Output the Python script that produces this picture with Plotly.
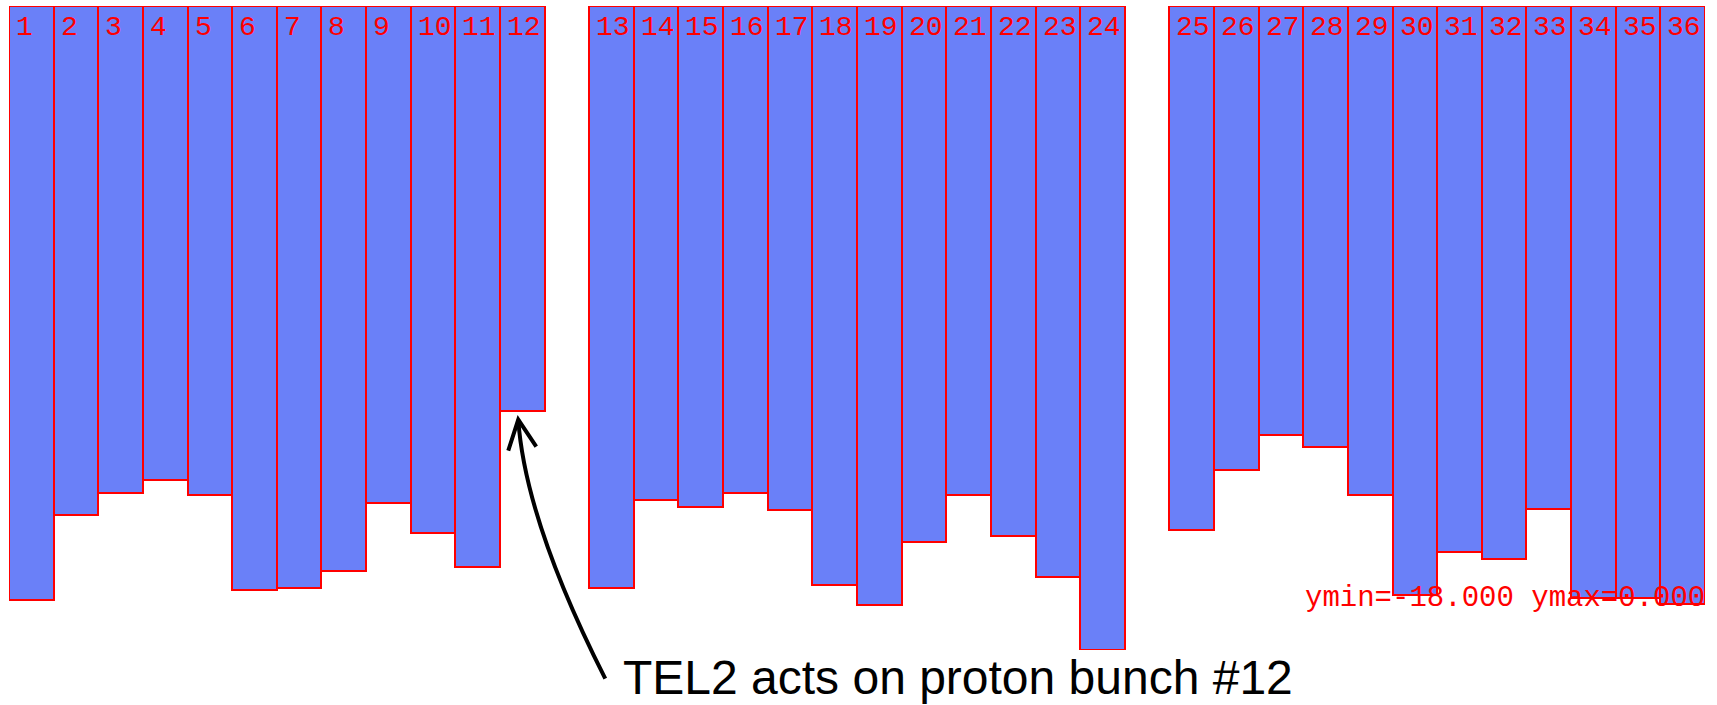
import plotly.graph_objects as go

# ---- data ----
bunches = list(range(1, 37))
bunch_labels = [str(b) for b in bunches]
values = [-16.60, -14.22, -13.61, -13.24, -13.67, -16.33, -16.27, -15.78, -13.88, -14.74, -15.69, -11.31,
          -16.27, -13.82, -14.00, -13.61, -14.09, -16.17, -16.73, -14.98, -13.67, -14.80, -15.96, -18.00,
          -14.65, -12.96, -11.98, -12.32, -13.67, -16.46, -15.26, -15.47, -14.06, -16.55, -16.55, -16.71]
ymin, ymax = -18.0, 0.0
group_size = 12
highlight_bunch = 12
note_text = "TEL2 acts on proton bunch #12"
range_text = "ymin=%.3f ymax=%.3f" % (ymin, ymax)

# slot positions: one empty slot between the bunch trains
pos = [(b - 1) + (b - 1) // group_size for b in bunches]
xmin_r, xmax_r = -0.5, max(pos) + 0.5

W, H = 1717, 705
ml, mr, mt, mb = 9, 12, 6, 55
pw, ph = W - ml - mr, H - mt - mb

RED = "#ff0000"
FILL = "#6a80f8"
MONO = "Liberation Mono, Courier New, monospace"

fig = go.Figure()
fig.add_trace(go.Bar(
    x=pos, y=values, width=1.0,
    marker=dict(color=FILL, line=dict(color=RED, width=2)),
    cliponaxis=False, hoverinfo="skip", showlegend=False,
))

annotations = []
for p, lab in zip(pos, bunch_labels):
    annotations.append(dict(
        x=p - 0.5, y=0, xref="x", yref="y", text=lab, showarrow=False,
        xanchor="left", yanchor="top", xshift=5, yshift=-4,
        font=dict(family=MONO, size=28, color=RED),
    ))

# range text at the lower right
annotations.append(dict(
    x=1.0, y=-16.55, xref="paper", yref="y", text=range_text, showarrow=False,
    xanchor="right", yanchor="middle", xshift=2,
    font=dict(family=MONO, size=29, color=RED),
))

# helpers: data -> pixel -> paper
def px_x(xv):
    return ml + (xv - xmin_r) / (xmax_r - xmin_r) * pw

def px_y(yv):
    return mt + (ymax - yv) / (ymax - ymin) * ph

def paper(pxx, pxy):
    return (pxx - ml) / pw, (H - mb - pxy) / ph

hi = bunches.index(highlight_bunch)
tip_x = px_x(pos[hi]) - 4
tip_y = px_y(values[hi]) + 9
tail = (tip_x + 87, tip_y + 259)
ctrl = (tip_x + 7, tip_y + 101)
wing_l = (tip_x - 10, tip_y + 31)
wing_r = (tip_x + 18, tip_y + 27)

def fmt(pt):
    a, b = paper(*pt)
    return "%.5f,%.5f" % (a, b)

curve = "M %s Q %s %s" % (fmt(tail), fmt(ctrl), fmt((tip_x, tip_y)))
head = "M %s L %s L %s" % (fmt(wing_l), fmt((tip_x, tip_y)), fmt(wing_r))
shapes = [
    dict(type="path", path=curve, xref="paper", yref="paper", line=dict(color="black", width=4)),
    dict(type="path", path=head, xref="paper", yref="paper", line=dict(color="black", width=4)),
]

tx, ty = paper(tail[0] + 16, tail[1] - 1)
annotations.append(dict(
    x=tx, y=ty, xref="paper", yref="paper", text=note_text, showarrow=False,
    xanchor="left", yanchor="middle",
    font=dict(family="Liberation Sans, Arial, sans-serif", size=48, color="black"),
))

fig.update_layout(
    width=W, height=H,
    margin=dict(l=ml, r=mr, t=mt, b=mb, autoexpand=False),
    paper_bgcolor="white", plot_bgcolor="white",
    xaxis=dict(range=[xmin_r, xmax_r], visible=False, showgrid=False, zeroline=False),
    yaxis=dict(range=[ymin, ymax], visible=False, showgrid=False, zeroline=False),
    bargap=0, annotations=annotations, shapes=shapes,
)

fig.write_html("out.html")
